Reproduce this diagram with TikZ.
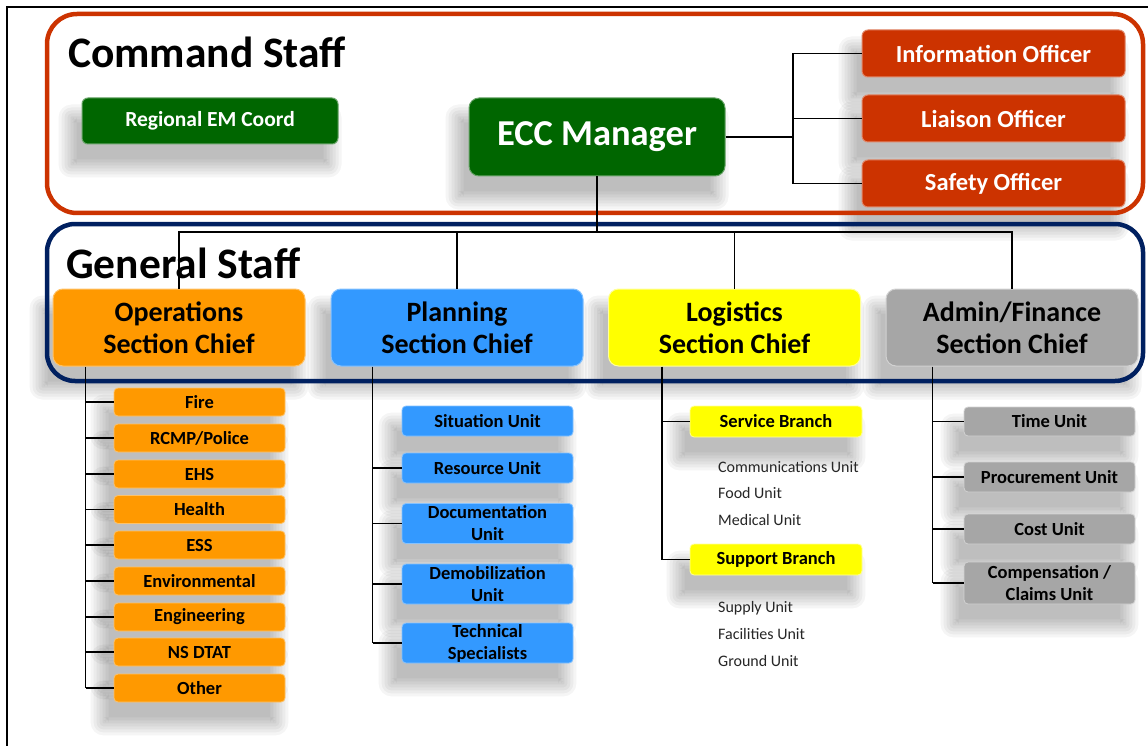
\documentclass[tikz,border=0pt]{standalone}
\usepackage{fontspec}
\setmainfont{Carlito}
\usetikzlibrary{positioning}

\definecolor{cmdred}{RGB}{204,51,0}
\definecolor{gsnavy}{RGB}{0,32,96}
\definecolor{emgreen}{RGB}{0,102,0}
\definecolor{opsorange}{RGB}{255,153,0}
\definecolor{plansky}{RGB}{51,153,255}
\definecolor{logyellow}{RGB}{255,255,0}
\definecolor{admgray}{RGB}{166,166,166}

\pgfdeclarelayer{background}
\pgfsetlayers{background,main}

\begin{document}
\begin{tikzpicture}[x=1pt, y=-1pt,
  card/.style={rectangle, rounded corners=#1, align=center, inner sep=1pt},
  card/.default=5pt,
  chief/.style={card=10pt, line width=1pt, minimum width=252pt, minimum height=77pt, font=\bfseries\fontsize{28}{32}\selectfont},
  officer/.style={card=6pt, line width=1pt, fill=cmdred, draw=cmdred!60!white, text=white, minimum width=263pt, minimum height=47pt, font=\bfseries\fontsize{24.5}{28}\selectfont},
  unitbox/.style={card=4pt, line width=0.8pt, minimum width=171pt, font=\bfseries\fontsize{18.5}{22}\selectfont},
  subunit/.style={anchor=west, inner sep=0pt, text=black!85, font=\fontsize{16}{18}\selectfont},
  link/.style={draw=black, line width=1.1pt}
]
\useasboundingbox (0,0) rectangle (1148,746);
\draw[black, line width=2pt] (7,746) -- (7,7) -- (1148,7);

% staff frames
\draw[cmdred, line width=4.5pt, rounded corners=30pt] (47,14) rectangle (1143,213);
\draw[gsnavy, line width=4.5pt, rounded corners=28pt] (47,224) rectangle (1143,381);
\node[anchor=base west, inner sep=0pt, font=\bfseries\fontsize{43.5}{50}\selectfont] (cmdlabel) at (68,68) {Command Staff};
\node[anchor=base west, inner sep=0pt, font=\bfseries\fontsize{43.5}{50}\selectfont] (genlabel) at (66,278) {General Staff};

% command staff
\node[card=6pt, line width=1pt, fill=emgreen, draw=emgreen!60!white, text=white, minimum width=256pt, minimum height=46pt, font=\bfseries\fontsize{21.5}{24}\selectfont] (regional) at (210,121) {Regional EM Coord};
\node[card=10pt, line width=1pt, fill=emgreen, draw=emgreen!60!white, text=white, minimum width=256pt, minimum height=78pt, font=\bfseries\fontsize{36.5}{40}\selectfont] (ecc) at (597,137) {ECC Manager};

\node[officer] (info) at (993.5,53.5) {Information Officer};
\node[officer] (liaison) at (993.5,118.5) {Liaison Officer};
\node[officer] (safety) at (993.5,183.5) {Safety Officer};

\coordinate (offbus) at (793,137);
\draw[link] (ecc.east) -- (offbus);
\draw[link] (info.west) -| (offbus) |- (safety.west);
\draw[link] (liaison.west) -- (liaison.west -| offbus);

% general staff
\node[chief, fill=opsorange, draw=opsorange!60!white] (ops) at (179,327.5) {Operations\\Section Chief};
\node[chief, fill=plansky, draw=plansky!60!white] (plan) at (457,327.5) {Planning\\Section Chief};
\node[chief, fill=logyellow, draw=logyellow!40!white] (log) at (734.5,327.5) {Logistics\\Section Chief};
\node[chief, fill=admgray, draw=admgray!50!white] (adm) at (1012,327.5) {Admin/Finance\\Section Chief};

\coordinate (genbus) at (597,232);
\draw[link] (ecc.south) -- (genbus);
\draw[link] (ops.north) |- (genbus) -| (adm.north);
\draw[link] (plan.north) -- (plan.north |- genbus);
\draw[link] (log.north) -- (log.north |- genbus);

% operations
\coordinate (opsl) at ([xshift=33pt]ops.south west);
\foreach \nm/\yy/\txt in {fire/402/Fire, rcmp/438/{RCMP/Police}, ehs/474/EHS, health/509.5/Health, ess/545/ESS, env/581/Environmental, eng/617/Engineering, nsdtat/652/NS DTAT, other/688/Other}
{
  \node[unitbox, minimum height=28pt, fill=opsorange, draw=opsorange!60!white] (\nm) at (199.5,\yy) {\txt};
  \draw[link] (opsl |- \nm.west) -- (\nm.west);
}
\draw[link] (opsl) -- (opsl |- other.west);

% planning
\coordinate (planl) at ([xshift=42pt]plan.south west);
\node[unitbox, minimum height=30pt, fill=plansky, draw=plansky!60!white] (situation) at (487.5,421) {Situation Unit};
\node[unitbox, minimum height=30pt, fill=plansky, draw=plansky!60!white] (resource) at (487.5,468) {Resource Unit};
\node[unitbox, minimum height=40pt, fill=plansky, draw=plansky!60!white] (docu) at (487.5,523.5) {Documentation\\Unit};
\node[unitbox, minimum height=40pt, fill=plansky, draw=plansky!60!white] (demob) at (487.5,584) {Demobilization\\Unit};
\node[unitbox, minimum height=40pt, fill=plansky, draw=plansky!60!white] (technical) at (487.5,643) {Technical\\Specialists};
\foreach \nm in {resource, docu, demob, technical}
  \draw[link] (planl |- \nm.west) -- (\nm.west);
\draw[link] (planl) -- (planl |- technical.west);

% logistics
\coordinate (logl) at ([xshift=54pt]log.south west);
\node[unitbox, minimum width=172pt, minimum height=31pt, fill=logyellow, draw=logyellow!40!white] (service) at (776,421.5) {Service Branch};
\node[unitbox, minimum width=172pt, minimum height=31pt, fill=logyellow, draw=logyellow!40!white] (support) at (776,559.5) {Support Branch};
\draw[link] (logl) |- (support.west);
\draw[link] (logl |- service.west) -- (service.west);
\node[subunit] (comms) at (718,467) {Communications Unit};
\node[subunit] (food) at (718,493) {Food Unit};
\node[subunit] (medical) at (718,520) {Medical Unit};
\node[subunit] (supply) at (718,608) {Supply Unit};
\node[subunit] (facilities) at (718,634) {Facilities Unit};
\node[subunit] (ground) at (718,661) {Ground Unit};

% admin / finance
\coordinate (adml) at ([xshift=47pt]adm.south west);
\node[unitbox, minimum height=29pt, fill=admgray, draw=admgray!50!white] (time) at (1049.5,421.5) {Time Unit};
\node[unitbox, minimum height=30pt, fill=admgray, draw=admgray!50!white] (procure) at (1049.5,477) {Procurement Unit};
\node[unitbox, minimum height=30pt, fill=admgray, draw=admgray!50!white] (cost) at (1049.5,529) {Cost Unit};
\node[unitbox, minimum height=42pt, fill=admgray, draw=admgray!50!white] (comp) at (1049.5,583) {Compensation /\\Claims Unit};
\foreach \nm in {time, procure, cost, comp}
  \draw[link] (adml |- \nm.west) -- (\nm.west);
\draw[link] (adml) -- (adml |- comp.west);

% soft shadows behind the boxes
\begin{pgfonlayer}{background}
\fill[white] (0,0) rectangle (1148,746);
\foreach \nm in {regional, ecc, info, liaison, safety, ops, plan, log, adm,
    fire, rcmp, ehs, health, ess, env, eng, nsdtat, other,
    situation, resource, docu, demob, technical, service, support,
    time, procure, cost, comp}
  \foreach \k [evaluate=\k as \rr using \k+8] in {-5,-2,...,13}
    \fill[black, opacity=.04, rounded corners=\rr pt]
      ([xshift=-10pt-\k pt, yshift=-20pt-\k pt]\nm.south west) rectangle
      ([xshift=-10pt+\k pt, yshift=-20pt+\k pt]\nm.north east);
\end{pgfonlayer}
\end{tikzpicture}
\end{document}
